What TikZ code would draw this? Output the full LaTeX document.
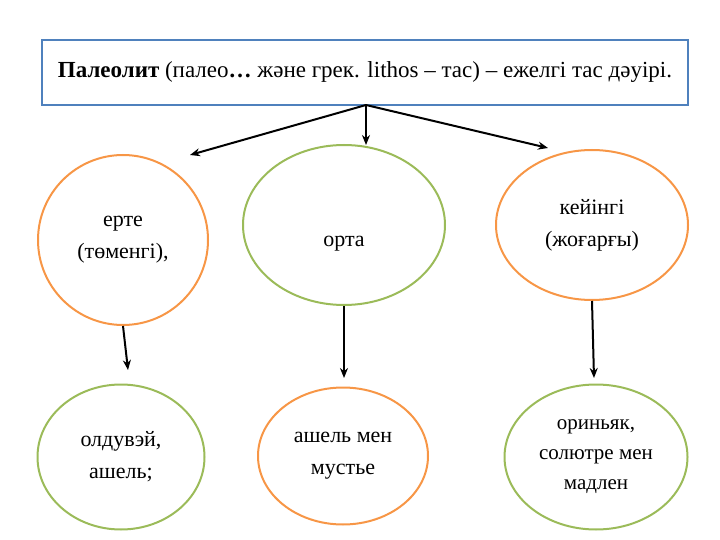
\documentclass[tikz,border=0pt]{standalone}
\usepackage{fontspec}
\setmainfont{Liberation Serif}
\usetikzlibrary{shapes.geometric,arrows.meta}
\definecolor{og}{HTML}{F79646}
\definecolor{gr}{HTML}{9BBB59}
\definecolor{bl}{HTML}{4F81BD}
\begin{document}
\begin{tikzpicture}[x=1pt,y=-1pt,
 el/.style={ellipse,draw,line width=2pt,align=center,font=\fontsize{22}{32}\selectfont},
 arr/.style={-{Stealth[length=10pt,width=8pt]},line width=2pt}]
\useasboundingbox (0,0) rectangle (720,540);
\node[draw=bl,line width=1.5pt,minimum width=646pt,minimum height=65pt,font=\fontsize{23}{26}\selectfont] (t) at (365,72.5) {\textbf{Палеолит} (палео\textbf{…} және грек. lithos – тас) – ежелгі тас дәуірі.};
\coordinate (s) at (366,105);
\node[el,draw=og,minimum width=170pt,minimum height=170pt] (a) at (123,240) {ерте\\(төменгі),};
\node[el,draw=gr,minimum width=202pt,minimum height=160pt] (b) at (344,225) {\raisebox{-22pt}[0pt][0pt]{орта}};
\node[el,draw=og,minimum width=192pt,minimum height=150pt] (c) at (592,225) {кейінгі\\(жоғарғы)};
\node[el,draw=gr,minimum width=167pt,minimum height=145pt] (d) at (121,457) {олдувэй,\\ашель;};
\node[el,draw=og,minimum width=170pt,minimum height=137pt] (e) at (343,456) {ашель мен\\мустье};
\node[el,draw=gr,minimum width=183pt,minimum height=145pt,font=\fontsize{21}{30}\selectfont] (f) at (596,457) {ориньяк,\\солютре мен\\мадлен};
\coordinate (ta) at (190,155);
\coordinate (tb) at (366,145);
\coordinate (tc) at (548,148);
\draw[arr] (s) -- (ta);
\draw[arr] (s) -- (tb);
\draw[arr] (s) -- (tc);
\coordinate (da) at (128,370);
\coordinate (db) at (344,378);
\coordinate (dc) at (594,378);
\draw[arr] (a.south) -- (da);
\draw[arr] (b.south) -- (db);
\draw[arr] (c.south) -- (dc);
\end{tikzpicture}
\end{document}
